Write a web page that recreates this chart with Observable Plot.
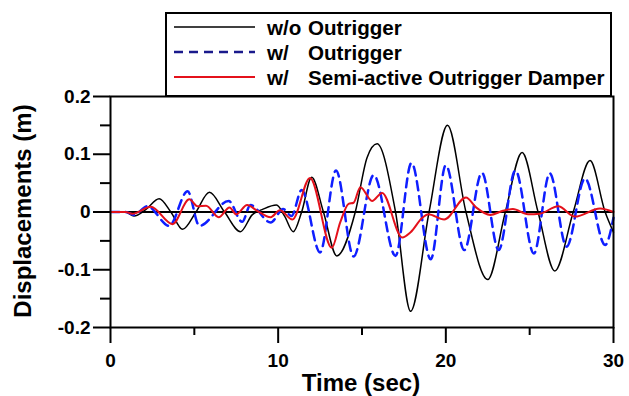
<!DOCTYPE html>
<html><head><meta charset="utf-8">
<script src="https://cdn.jsdelivr.net/npm/d3@7"></script>
<script src="https://cdn.jsdelivr.net/npm/@observablehq/plot@0.6"></script>
<style>body{margin:0;background:#fff} svg{display:block}</style>
</head><body><div id="chart"></div>
<script>
// Series: w/o Outrigger
const timeWo = [0, 0.9, 1.4, 2.1, 2.9, 3.6, 4.3, 5.1, 5.9, 6.8, 7.75, 8.45, 9.1, 9.9, 10.4, 10.9, 11.4, 12.0, 12.7, 13.5, 14.6, 15.3, 15.9, 17.0, 17.9, 19.0, 20.1, 21.2, 22.5, 23.55, 24.55, 25.5, 26.5, 27.6, 28.6, 29.5, 30];
const dispWo = [0, 0, -0.007, 0.004, 0.023, 0.0, -0.03, 0.0, 0.034, 0.0, -0.034, -0.005, 0.005, 0.012, -0.008, -0.034, 0.0, 0.060, 0.0, -0.076, 0.0, 0.094, 0.118, 0.0, -0.172, 0.0, 0.150, 0.0, -0.117, 0.0, 0.103, 0.0, -0.102, 0.0, 0.089, 0.0, -0.035];
// Series: w/ Outrigger
const timeW = [0, 0.9, 1.4, 2.2, 3.5, 4.6, 5.3, 7.05, 7.85, 8.35, 9.55, 10.3, 10.8, 11.4, 12.5, 13.45, 14.5, 15.7, 17.0, 17.95, 19.1, 20.0, 21.1, 22.15, 23.15, 24.15, 25.25, 26.2, 27.2, 28.3, 29.5, 30];
const dispW = [0, 0, -0.005, 0.01, -0.024, 0.036, -0.024, 0.019, -0.017, 0.012, -0.018, 0.005, -0.007, 0.038, -0.07, 0.072, -0.077, 0.064, -0.076, 0.085, -0.082, 0.081, -0.066, 0.068, -0.066, 0.072, -0.072, 0.067, -0.06, 0.058, -0.057, -0.01];
// Series: w/ Semi-active Outrigger Damper
const timeS = [0, 0.9, 1.3, 2.4, 3.7, 4.7, 5.2, 5.7, 6.45, 7.1, 7.5, 8.15, 8.75, 9.55, 10.1, 10.85, 11.9, 13.2, 13.7, 14.2, 14.5, 14.9, 15.6, 16.2, 17.4, 17.9, 18.6, 18.95, 19.9, 21.2, 21.8, 22.65, 23.4, 24.0, 24.9, 25.6, 26.7, 27.7, 29.2, 30];
const dispS = [0, 0, -0.003, 0.009, -0.021, 0.022, 0.01, 0.011, -0.009, 0.008, -0.004, 0.012, 0.002, -0.009, 0.003, -0.013, 0.059, -0.062, -0.018, 0.014, 0.016, 0.043, 0.019, 0.033, -0.044, -0.035, -0.01, -0.004, -0.013, 0.025, 0.008, -0.005, 0.002, 0.005, -0.004, -0.003, 0.01, -0.008, 0.006, 0];

const xMajor = [0, 10, 20, 30];
const xMinor = [5, 15, 25];
const yMajor = [-0.2, -0.1, 0, 0.1, 0.2];
const yMinor = [-0.15, -0.05, 0.05, 0.15];
const legendPrefix = ["w/o", "w/", "w/"];
const legendNames = ["Outrigger", "Outrigger", "Semi-active Outrigger Damper"];
const xTitle = "Time (sec)";
const yTitle = "Displacements (m)";

const rows = (ts, vs) => ts.map((t, i) => ({t, v: vs[i]}));
const FONT = "'Liberation Sans', Arial, sans-serif";
const BLUE = "#0f1eff", RED = "#e4111b";

const chart = Plot.plot({
  width: 629, height: 396,
  marginLeft: 110, marginRight: 16, marginTop: 96, marginBottom: 69,
  style: {fontFamily: FONT, fontWeight: "bold", fontSize: "19px", color: "#000", background: "#fff", overflow: "visible"},
  x: {domain: [0, 30]},
  y: {domain: [-0.2, 0.2]},
  marks: [
    Plot.ruleY([0], {stroke: "#000", strokeWidth: 2}),
    Plot.line(rows(timeWo, dispWo), {x: "t", y: "v", stroke: "#000", strokeWidth: 1.5, curve: "monotone-x"}),
    Plot.line(rows(timeW, dispW), {x: "t", y: "v", stroke: BLUE, strokeWidth: 2.5, strokeDasharray: "9,6", curve: "monotone-x"}),
    Plot.line(rows(timeS, dispS), {x: "t", y: "v", stroke: RED, strokeWidth: 2, curve: "monotone-x"}),
    Plot.frame({stroke: "#000", strokeWidth: 2}),
    Plot.axisX({ticks: xMajor, tickSize: 16, tickPadding: 10, strokeWidth: 2, tickFormat: d => String(d), fontSize: 19, fontWeight: "bold", label: null}),
    Plot.axisX({ticks: xMinor, tickSize: 8, strokeWidth: 2, tickFormat: () => "", label: null}),
    Plot.axisY({ticks: yMajor, tickSize: 17, tickPadding: 3, strokeWidth: 2, tickFormat: d => d === 0 ? "0" : String(d), fontSize: 19, fontWeight: "bold", label: null}),
    Plot.axisY({ticks: yMinor, tickSize: 10, strokeWidth: 2, tickFormat: () => "", label: null})
  ]
});
document.getElementById("chart").appendChild(chart);

const svg = d3.select(chart);
// axis titles
svg.append("text").attr("x", 361).attr("y", 382)
  .attr("text-anchor", "middle").attr("dominant-baseline", "central")
  .attr("font-family", FONT).attr("font-weight", "bold").attr("font-size", 24).text(xTitle);
svg.append("text").attr("transform", "translate(22,211) rotate(-90)")
  .attr("text-anchor", "middle").attr("dominant-baseline", "central")
  .attr("font-family", FONT).attr("font-weight", "bold").attr("font-size", 24).text(yTitle);

// legend
const lg = svg.append("g");
lg.append("rect").attr("x", 166).attr("y", 13).attr("width", 445).attr("height", 83)
  .attr("fill", "#fff").attr("stroke", "#000").attr("stroke-width", 2);
const styles = [
  {stroke: "#000", w: 1.5, dash: null},
  {stroke: "#1a1a8c", w: 2.5, dash: "9,6"},
  {stroke: RED, w: 2, dash: null}
];
styles.forEach((s, i) => {
  const y = 27 + i * 25;
  lg.append("line").attr("x1", 174).attr("x2", 255).attr("y1", y).attr("y2", y)
    .attr("stroke", s.stroke).attr("stroke-width", s.w).attr("stroke-dasharray", s.dash);
  lg.append("text").attr("x", 267).attr("y", y).attr("dominant-baseline", "central").attr("text-anchor", "start")
    .attr("font-family", FONT).attr("font-weight", "bold").attr("font-size", 20.6).text(legendPrefix[i]);
  lg.append("text").attr("x", 308).attr("y", y).attr("dominant-baseline", "central").attr("text-anchor", "start")
    .attr("font-family", FONT).attr("font-weight", "bold").attr("font-size", 20.6).text(legendNames[i]);
});
</script>
</body></html>
